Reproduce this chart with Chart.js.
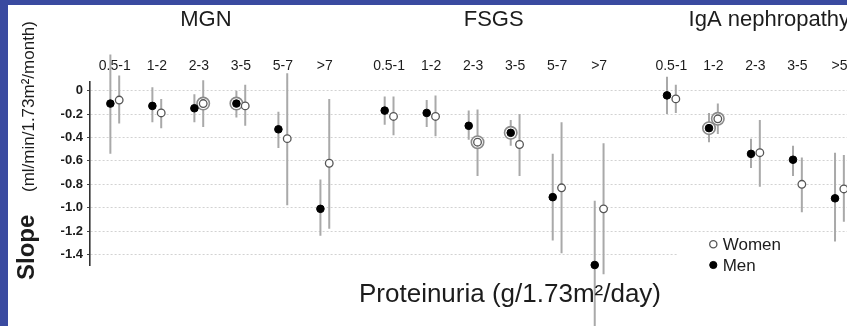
<!DOCTYPE html>
<html>
<head>
<meta charset="utf-8">
<script src="https://cdn.jsdelivr.net/npm/chart.js@4.4.1/dist/chart.umd.min.js"></script>
<style>
    html, body { margin: 0; padding: 0; }
    body { width: 847px; height: 326px; background: #3a4aa0; position: relative; overflow: hidden; }
    #wrap { position: absolute; left: 8px; top: 5px; width: 839px; height: 321px; background: #fff; }
</style>
</head>
<body>
<div id="wrap"><canvas id="slopeChart"></canvas></div>
<script>
/* ============================================
   Slope vs proteinuria, by disease and sex
   ============================================ */

// ---- data ----
const groupNames = ['MGN', 'FSGS', 'IgA nephropathy'];
const yTickValues = [0, -0.2, -0.4, -0.6, -0.8, -1.0, -1.2, -1.4];

const mgnCats     = ['0.5-1', '1-2', '2-3', '3-5', '5-7', '>7'];
const mgnMen      = [-0.11, -0.13, -0.15, -0.11, -0.33, -1.01];
const mgnMenLo    = [-0.54, -0.27, -0.27, -0.23, -0.49, -1.24];
const mgnMenHi    = [0.31, 0.03, -0.03, 0.00, -0.18, -0.76];
const mgnWomen    = [-0.08, -0.19, -0.11, -0.13, -0.41, -0.62];
const mgnWomenLo  = [-0.28, -0.32, -0.31, -0.30, -0.98, -1.18];
const mgnWomenHi  = [0.13, -0.07, 0.09, 0.05, 0.15, -0.07];
const mgnMenRing   = [0, 0, 0, 1, 0, 0];
const mgnWomenRing = [0, 0, 1, 0, 0, 0];

const fsgsCats    = ['0.5-1', '1-2', '2-3', '3-5', '5-7', '>7'];
const fsgsMen     = [-0.17, -0.19, -0.30, -0.36, -0.91, -1.49];
const fsgsMenLo   = [-0.29, -0.31, -0.42, -0.47, -1.28, -2.05];
const fsgsMenHi   = [-0.05, -0.08, -0.17, -0.25, -0.54, -0.94];
const fsgsWomen   = [-0.22, -0.22, -0.44, -0.46, -0.83, -1.01];
const fsgsWomenLo = [-0.38, -0.39, -0.73, -0.73, -1.39, -1.57];
const fsgsWomenHi = [-0.05, -0.04, -0.16, -0.20, -0.27, -0.45];
const fsgsMenRing   = [0, 0, 0, 1, 0, 0];
const fsgsWomenRing = [0, 0, 1, 0, 0, 0];

const igaCats     = ['0.5-1', '1-2', '2-3', '3-5', '>5'];
const igaMen      = [-0.04, -0.32, -0.54, -0.59, -0.92];
const igaMenLo    = [-0.20, -0.44, -0.66, -0.73, -1.29];
const igaMenHi    = [0.12, -0.19, -0.41, -0.47, -0.53];
const igaWomen    = [-0.07, -0.24, -0.53, -0.80, -0.84];
const igaWomenLo  = [-0.19, -0.37, -0.82, -1.04, -1.12];
const igaWomenHi  = [0.05, -0.11, -0.25, -0.57, -0.55];
const igaMenRing   = [0, 1, 0, 0, 0];
const igaWomenRing = [0, 1, 0, 0, 0];

// ---- layout (x in category steps) ----
const GROUP_START = [0, 6.53, 13.25];
const GROUP_TITLE_POS = [2.17, 9.02, 15.58];
const SEX_OFFSET = 0.105;
const X_MIN = -0.59, X_MAX = 17.43;
const Y_MIN = -1.49, Y_MAX = 0.077;

const FONT = "'Liberation Sans', Arial, Helvetica, sans-serif";
const TEXT = '#1c1c1c';
const BAR_COLOR = '#a9a9a9';

const groups = [
    { cats: mgnCats, men: mgnMen, menLo: mgnMenLo, menHi: mgnMenHi, women: mgnWomen, womenLo: mgnWomenLo, womenHi: mgnWomenHi, menRing: mgnMenRing, womenRing: mgnWomenRing },
    { cats: fsgsCats, men: fsgsMen, menLo: fsgsMenLo, menHi: fsgsMenHi, women: fsgsWomen, womenLo: fsgsWomenLo, womenHi: fsgsWomenHi, menRing: fsgsMenRing, womenRing: fsgsWomenRing },
    { cats: igaCats, men: igaMen, menLo: igaMenLo, menHi: igaMenHi, women: igaWomen, womenLo: igaWomenLo, womenHi: igaWomenHi, menRing: igaMenRing, womenRing: igaWomenRing }
];

// build point lists from the arrays
const menPts = [], womenPts = [], ringPts = [], barPts = [];
const tickPos = [], tickLabels = [];
groups.forEach((g, gi) => {
    g.cats.forEach((c, i) => {
        const xc = GROUP_START[gi] + i;
        const xm = xc - SEX_OFFSET, xw = xc + SEX_OFFSET;
        tickPos.push(xc);
        tickLabels.push(c);
        menPts.push({ x: xm, y: g.men[i] });
        womenPts.push({ x: xw, y: g.women[i] });
        if (g.menRing[i]) ringPts.push({ x: xm, y: g.men[i] });
        if (g.womenRing[i]) ringPts.push({ x: xw, y: g.women[i] });
        // error bars: lo -> hi, then a gap
        barPts.push({ x: xm, y: g.menLo[i] }, { x: xm, y: g.menHi[i] }, { x: xm, y: null });
        barPts.push({ x: xw, y: g.womenLo[i] }, { x: xw, y: g.womenHi[i] }, { x: xw, y: null });
    });
});

// ============ titles + legend ============
const decorPlugin = {
    id: 'decor',
    beforeDatasetsDraw(chart) {
        // legend box hides the last grid line
        const ctx = chart.ctx;
        ctx.save();
        ctx.fillStyle = '#fff';
        ctx.fillRect(670, 233, 169, 34);
        ctx.restore();
    },
    afterDraw(chart) {
        const ctx = chart.ctx;
        ctx.save();
        ctx.fillStyle = TEXT;

        // y title: "Slope (ml/min/1.73m²/month)"
        ctx.save();
        ctx.translate(26, 275);
        ctx.rotate(-Math.PI / 2);
        ctx.textAlign = 'left';
        ctx.textBaseline = 'alphabetic';
        ctx.font = 'bold 24px ' + FONT;
        ctx.fillText('Slope', 0, 0);
        ctx.font = '17px ' + FONT;
        ctx.fillText('(ml/min/1.73m\u00b2/month)', 88, 0);
        ctx.restore();

        // x title
        ctx.font = '26px ' + FONT;
        ctx.textAlign = 'center';
        ctx.textBaseline = 'alphabetic';
        ctx.fillText('Proteinuria (g/1.73m\u00b2/day)', 502, 296.7);

        // legend
        const items = [
            { label: 'Women', ds: chart.data.datasets[1], y: 239.3 },
            { label: 'Men', ds: chart.data.datasets[0], y: 260 }
        ];
        ctx.font = '17px ' + FONT;
        ctx.textAlign = 'left';
        ctx.textBaseline = 'middle';
        items.forEach(it => {
            ctx.beginPath();
            ctx.arc(705.3, it.y, 3.6, 0, Math.PI * 2);
            ctx.fillStyle = it.ds.backgroundColor;
            ctx.fill();
            ctx.lineWidth = it.ds.borderWidth;
            ctx.strokeStyle = it.ds.borderColor;
            ctx.stroke();
            ctx.fillStyle = TEXT;
            ctx.fillText(it.label, 714.7, it.y + 1);
        });
        ctx.restore();
    }
};

const ctx = document.getElementById('slopeChart');
new Chart(ctx, {
    type: 'scatter',
    data: {
        datasets: [
            {
                label: 'Men',
                data: menPts,
                backgroundColor: '#000',
                borderColor: '#000',
                borderWidth: 1,
                pointRadius: 3.8,
                clip: false
            },
            {
                label: 'Women',
                data: womenPts,
                backgroundColor: '#fff',
                borderColor: '#555',
                borderWidth: 1.3,
                pointRadius: 3.8,
                clip: false
            },
            {
                label: 'ring',
                data: ringPts,
                backgroundColor: '#fff',
                borderColor: '#8a8a8a',
                borderWidth: 1.6,
                pointRadius: 6.2,
                clip: false
            },
            {
                label: 'range',
                data: barPts,
                showLine: true,
                spanGaps: false,
                borderColor: BAR_COLOR,
                borderWidth: 2,
                pointRadius: 0,
                clip: false
            }
        ]
    },
    options: {
        responsive: true,
        maintainAspectRatio: false,
        animation: false,
        events: [],
        layout: { padding: { left: 0, right: 0, top: 0, bottom: 61 }, autoPadding: false },
        plugins: {
            legend: { display: false },
            tooltip: { enabled: false }
        },
        scales: {
            x: {
                type: 'linear',
                position: 'top',
                min: X_MIN,
                max: X_MAX,
                weight: 0,
                afterBuildTicks: s => { s.ticks = tickPos.map(v => ({ value: v })); },
                ticks: {
                    callback: (v, i) => tickLabels[i],
                    autoSkip: false,
                    maxRotation: 0,
                    color: TEXT,
                    font: { family: FONT, size: 14 },
                    padding: 6.7
                },
                grid: { display: false, drawTicks: false },
                border: { display: false },
                afterFit: s => { s.height = 24; s.paddingLeft = 0; s.paddingRight = 0; }
            },
            g: {
                type: 'linear',
                position: 'top',
                min: X_MIN,
                max: X_MAX,
                weight: 1,
                afterBuildTicks: s => { s.ticks = GROUP_TITLE_POS.map(v => ({ value: v })); },
                ticks: {
                    callback: (v, i) => groupNames[i],
                    autoSkip: false,
                    maxRotation: 0,
                    color: TEXT,
                    font: { family: FONT, size: 22 },
                    padding: 24.2
                },
                grid: { display: false, drawTicks: false },
                border: { display: false },
                afterFit: s => { s.height = 52.7; s.paddingLeft = 0; s.paddingRight = 0; }
            },
            y: {
                min: Y_MIN,
                max: Y_MAX,
                afterBuildTicks: s => { s.ticks = yTickValues.map(v => ({ value: v })); },
                ticks: {
                    callback: v => (v === 0 ? '0' : v.toFixed(1)),
                    color: TEXT,
                    font: { family: FONT, size: 13, weight: 'bold' },
                    padding: 4
                },
                grid: { color: '#d2d2d2', lineWidth: 1, tickLength: 3, tickColor: '#444', tickWidth: 1 },
                border: { display: true, color: '#333', width: 1.6, dash: [2, 2] },
                afterFit: s => { s.width = 82; s.paddingTop = 0; s.paddingBottom = 0; }
            }
        }
    },
    plugins: [decorPlugin]
});
</script>
</body>
</html>
